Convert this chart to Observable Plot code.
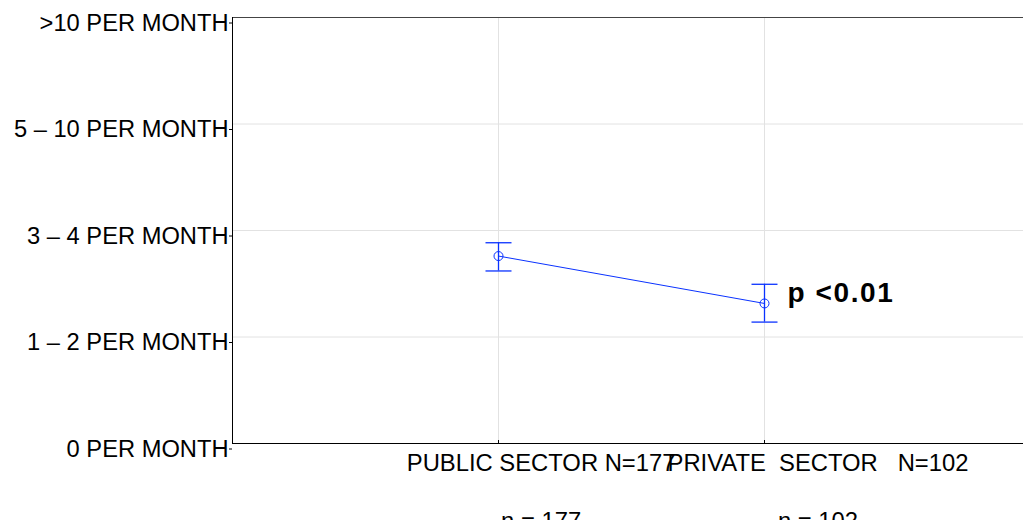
<!DOCTYPE html>
<html>
<head>
<meta charset="utf-8">
<script src="https://cdn.jsdelivr.net/npm/d3@7"></script>
<script src="https://cdn.jsdelivr.net/npm/@observablehq/plot@0.6"></script>
<style>
  html, body { margin: 0; padding: 0; background: #fff; overflow: hidden; }
  #chart svg { display: block; }
</style>
</head>
<body>
<div id="chart"></div>
<script>
// ---- data ----
const categories = ["PUBLIC SECTOR N=177", "PRIVATE  SECTOR   N=102"];
const nLabels = ["n = 177", "n = 102"];
const means = [1.76, 1.315];
const lower = [1.62, 1.14];
const upper = [1.885, 1.495];
const yTickValues = [0, 1, 2, 3, 4];
const yTickLabels = ["0 PER MONTH", "1 – 2 PER MONTH", "3 – 4 PER MONTH", "5 – 10 PER MONTH", ">10 PER MONTH"];
const pLabel = "p <0.01";

const rows = categories.map((c, i) => ({category: c, mean: means[i], lo: lower[i], hi: upper[i], n: nLabels[i], idx: i}));

const blue = "#0a32ff";
const font = "Arial, 'Liberation Sans', sans-serif";
const hcap = {draw(ctx, size) { const r = Math.sqrt(size / Math.PI); ctx.moveTo(-r, 0); ctx.lineTo(r, 0); }};

const chart = Plot.plot({
  width: 1023,
  height: 520,
  marginLeft: 232,
  marginRight: 0,
  marginTop: 17,
  marginBottom: 77,
  style: {fontFamily: font, background: "#fff", color: "#000"},
  x: {type: "point", domain: categories, range: [232, 1030], padding: 1, axis: null},
  y: {domain: [0, 4], axis: null},
  marks: [
    Plot.gridY([1, 2, 3], {stroke: "#e2e2e2", strokeOpacity: 1}),
    Plot.gridX(categories, {stroke: "#e2e2e2", strokeOpacity: 1}),
    Plot.ruleY([4], {stroke: "#444", strokeWidth: 1.2}),
    Plot.ruleY([0], {stroke: "#000"}),
    Plot.frame({anchor: "left", stroke: "#000"}),
    Plot.tickX(categories, {x: d => d, stroke: "#000", insetTop: 423}),
    Plot.axisY({ticks: yTickValues, tickFormat: v => yTickLabels[v], tickSize: 3, tickPadding: 1, fontSize: 23.7, dy: 5.5, label: null, stroke: "#000"}),
    Plot.text(rows, {filter: d => d.idx === 0, x: "category", text: "category", frameAnchor: "bottom", dy: 27, dx: 42.6, fontSize: 23.8, fill: "#000"}),
    Plot.text(rows, {filter: d => d.idx === 1, x: "category", text: "category", frameAnchor: "bottom", dy: 27, dx: 53.5, fontSize: 23.8, fill: "#000"}),
    Plot.text(rows, {filter: d => d.idx === 0, x: "category", text: "n", frameAnchor: "bottom", dy: 85, dx: 42.6, fontSize: 23.8, fill: "#000"}),
    Plot.text(rows, {filter: d => d.idx === 1, x: "category", text: "n", frameAnchor: "bottom", dy: 85, dx: 53.5, fontSize: 23.8, fill: "#000"}),
    Plot.ruleX(rows, {x: "category", y1: "lo", y2: "hi", stroke: blue, strokeWidth: 1.3}),
    Plot.dot(rows, {x: "category", y: "lo", r: 13, symbol: hcap, stroke: blue, fill: "none", strokeWidth: 1.3}),
    Plot.dot(rows, {x: "category", y: "hi", r: 13, symbol: hcap, stroke: blue, fill: "none", strokeWidth: 1.3}),
    Plot.line(rows, {x: "category", y: "mean", stroke: blue, strokeWidth: 1}),
    Plot.dot(rows, {x: "category", y: "mean", r: 4.5, stroke: blue, fill: "none", strokeWidth: 1}),
    Plot.text(rows, {filter: d => d.idx === 1, x: "category", y: "mean", text: () => pLabel, textAnchor: "start", dx: 23, dy: -10, fontSize: 28, fontWeight: "bold", fill: "#000"})
  ]
});
d3.select(chart).selectAll("text").filter(function() { return this.textContent === pLabel; }).style("letter-spacing", "1.6px");
document.getElementById("chart").appendChild(chart);
</script>
</body>
</html>
